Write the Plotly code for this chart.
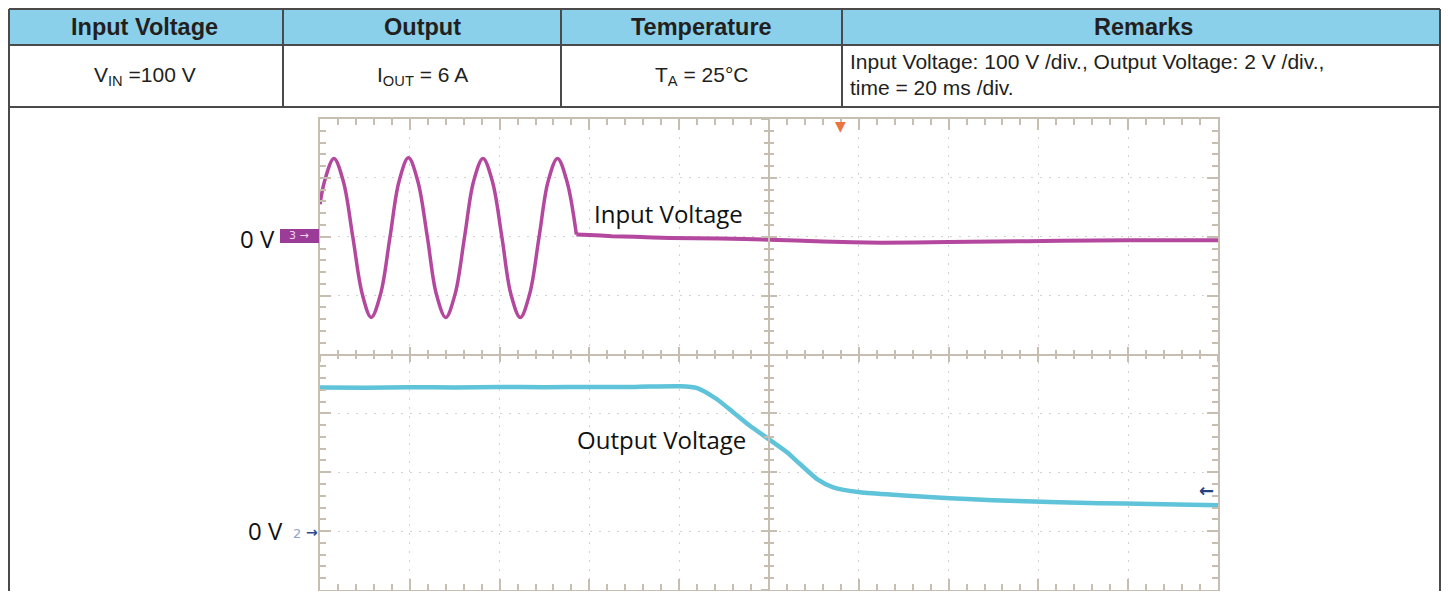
import plotly.graph_objects as go

# ---------------- data ----------------
header_labels = ["Input Voltage", "Output", "Temperature", "Remarks"]
row_values = ["V<sub>IN</sub> =100 V", "I<sub>OUT</sub> = 6 A", "T<sub>A</sub> = 25°C"]
remarks_lines = ["Input Voltage: 100 V /div., Output Voltage: 2 V /div.,",
                 "time = 20 ms /div."]

# input voltage (channel 3), AC part (ms, V)
input_ac_time_ms = [0, 1.0, 3.1, 5.2, 7.3, 9.4, 11.4, 13.5, 15.6, 17.6, 19.7, 21.8,
                    23.9, 25.9, 28.0, 30.1, 32.2, 34.2, 36.3, 38.4, 40.5, 42.5,
                    44.6, 46.7, 48.8, 50.8, 52.9, 55.0, 57.1]
input_ac_volts = [55, 94, 133, 94, 0, -97, -137, -97, 0, 94, 134, 94,
                  0, -97, -137, -97, 0, 94, 133, 94, 0, -97,
                  -137, -97, 0, 94, 133, 94, 4]
# input voltage after the AC is removed
input_off_time_ms = [57.1, 60, 65, 70, 78, 89, 100, 112, 125, 140, 150, 165, 180, 200]
input_off_volts = [4, 3, 1, 0, -2, -3, -5, -8, -10, -9, -8, -7, -6, -6]

# output voltage (channel 2)
output_time_ms = [0, 10, 20, 30, 40, 50, 60, 70, 80.2, 84.0, 88.4, 92.0, 95.8, 100.0,
                  104.0, 106.9, 110.7, 114.3, 120.3, 129.2, 136.5, 144.1, 155.2,
                  173.7, 184.9, 200]
output_volts = [4.88, 4.87, 4.89, 4.88, 4.90, 4.89, 4.90, 4.90, 4.92, 4.86, 4.48,
                4.04, 3.57, 3.12, 2.68, 2.28, 1.77, 1.49, 1.32, 1.22, 1.15, 1.09,
                1.02, 0.95, 0.92, 0.88]

trace_labels = ["Input Voltage", "Output Voltage"]
zero_label = "0 V"
input_channel = "3"
output_channel = "2"
trigger_time_ms = 116
time_per_div_ms = 20
input_volts_per_div = 100
output_volts_per_div = 2

# ---------------- layout helpers ----------------
OFF = 8  # page body margin added by the browser
W, H = 1449 - 2 * OFF, 599 - 2 * OFF


def px(x):
    return (x - OFF) / W


def py(y):
    return 1 - (y - OFF) / H


FRAME = "#c6bfb1"
BORDER = "#4a4a4a"
INPUT_COLOR = "#b3489e"
OUTPUT_COLOR = "#5fc3d9"

fig = go.Figure()

fig.add_trace(go.Scatter(x=input_ac_time_ms, y=input_ac_volts, mode="lines",
                         line=dict(color=INPUT_COLOR, width=3.5, shape="spline", smoothing=1.0),
                         name=trace_labels[0], showlegend=False, hoverinfo="skip",
                         xaxis="x", yaxis="y"))
fig.add_trace(go.Scatter(x=input_off_time_ms, y=input_off_volts, mode="lines",
                         line=dict(color=INPUT_COLOR, width=4, shape="spline", smoothing=0.6),
                         name=trace_labels[0], showlegend=False, hoverinfo="skip",
                         xaxis="x", yaxis="y"))
fig.add_trace(go.Scatter(x=output_time_ms, y=output_volts, mode="lines",
                         line=dict(color=OUTPUT_COLOR, width=4.5, shape="spline", smoothing=0.6),
                         name=trace_labels[1], showlegend=False, hoverinfo="skip",
                         xaxis="x", yaxis="y2"))
# dummy traces so the centre-cross axes get drawn
for xa, ya in [("x2", "y"), ("x3", "y"), ("x", "y3"), ("x", "y4")]:
    fig.add_trace(go.Scatter(x=[None], y=[None], xaxis=xa, yaxis=ya,
                             showlegend=False, hoverinfo="skip"))

x_range = [0, 10 * time_per_div_ms]
in_range = [-6 * input_volts_per_div, 2 * input_volts_per_div]
out_range = [-1 * output_volts_per_div, 7 * output_volts_per_div]

xdom = [px(320), px(1218)]
ydom = [max(0, py(590)), py(119)]

frame_axis = dict(showgrid=True, gridcolor="#d2d2d2", griddash="2px,7px", gridwidth=1,
                  zeroline=False, showline=True, linecolor=FRAME, linewidth=2,
                  mirror="ticks", ticks="inside", ticklen=11, tickwidth=1.5,
                  tickcolor=FRAME, showticklabels=False, fixedrange=True)

center_axis = dict(showgrid=False, zeroline=False, showline=True, linecolor=FRAME,
                   linewidth=1.5, tickwidth=1.5, tickcolor=FRAME, showticklabels=False,
                   fixedrange=True, anchor="free")

fig.update_layout(
    width=W, height=H, margin=dict(l=0, r=0, t=0, b=0),
    paper_bgcolor="white", plot_bgcolor="white",
    xaxis=dict(domain=xdom, range=x_range, dtick=time_per_div_ms, tick0=0,
               minor=dict(dtick=time_per_div_ms / 5, ticks="inside", ticklen=6,
                          tickcolor=FRAME, tickwidth=1.5, showgrid=False),
               anchor="y", **frame_axis),
    yaxis=dict(domain=ydom, range=in_range, dtick=input_volts_per_div, tick0=0,
               minor=dict(dtick=input_volts_per_div / 5, ticks="inside", ticklen=6,
                          tickcolor=FRAME, tickwidth=1.5, showgrid=False),
               anchor="x", **frame_axis),
    yaxis2=dict(domain=ydom, range=out_range, overlaying="y", visible=False,
                anchor="x", fixedrange=True),
    xaxis2=dict(domain=xdom, range=x_range, overlaying="x", position=py(354.5),
                ticks="outside", ticklen=7, dtick=time_per_div_ms, tick0=0,
                minor=dict(dtick=time_per_div_ms / 5, ticks="outside", ticklen=4,
                           tickcolor=FRAME, tickwidth=1.5),
                **center_axis),
    xaxis3=dict(domain=xdom, range=x_range, overlaying="x", position=py(354.5),
                ticks="inside", ticklen=7, dtick=time_per_div_ms, tick0=0,
                minor=dict(dtick=time_per_div_ms / 5, ticks="inside", ticklen=4,
                           tickcolor=FRAME, tickwidth=1.5),
                **center_axis),
    yaxis3=dict(domain=ydom, range=in_range, overlaying="y", position=px(769),
                ticks="outside", ticklen=7, dtick=input_volts_per_div, tick0=0,
                minor=dict(dtick=input_volts_per_div / 5, ticks="outside", ticklen=4,
                           tickcolor=FRAME, tickwidth=1.5),
                **center_axis),
    yaxis4=dict(domain=ydom, range=in_range, overlaying="y", position=px(769),
                ticks="inside", ticklen=7, dtick=input_volts_per_div, tick0=0,
                minor=dict(dtick=input_volts_per_div / 5, ticks="inside", ticklen=4,
                           tickcolor=FRAME, tickwidth=1.5),
                **center_axis),
)

# ---------------- table ----------------
TL, TR, TT = 9, 1440, 9  # outer table edges (kept inside the drawable page area)
shapes = []
shapes.append(dict(type="rect", xref="paper", yref="paper", x0=px(TL), x1=px(TR),
                   y0=py(45), y1=py(TT), fillcolor="#8bd0ea", line_width=0, layer="below"))
for yy in [TT, 45, 107]:
    shapes.append(dict(type="line", xref="paper", yref="paper", x0=px(TL), x1=px(TR),
                       y0=py(yy), y1=py(yy), line=dict(color=BORDER, width=2)))
for xx in [TL, TR]:
    shapes.append(dict(type="line", xref="paper", yref="paper", x0=px(xx), x1=px(xx),
                       y0=py(TT), y1=0, line=dict(color=BORDER, width=2)))
for xx in [283, 561, 842]:
    shapes.append(dict(type="line", xref="paper", yref="paper", x0=px(xx), x1=px(xx),
                       y0=py(TT), y1=py(107), line=dict(color=BORDER, width=2)))
# channel 3 ground marker box
shapes.append(dict(type="rect", xref="paper", yref="paper", x0=px(280), x1=px(319),
                   y0=py(243), y1=py(229), fillcolor="#9b3c99", line_width=0))
fig.update_layout(shapes=shapes)

annotations = []
col_centers = [144.5, 422, 701.5, 1143.5]
for lab, cx in zip(header_labels, col_centers):
    annotations.append(dict(text="<b>" + lab + "</b>", x=px(cx), y=py(27),
                            font=dict(family="Liberation Sans, Arial", size=23.5, color="#231f20")))
for val, cx in zip(row_values, col_centers[:3]):
    annotations.append(dict(text=val, x=px(cx), y=py(76),
                            font=dict(family="Liberation Sans, Arial", size=21, color="#231f20")))
for i, line in enumerate(remarks_lines):
    annotations.append(dict(text=line, x=px(848), y=py(61 + 26 * i), xanchor="left",
                            font=dict(family="Liberation Sans, Arial", size=21, color="#231f20")))

# scope labels
LBL = dict(family="Open Sans", size=24, color="#111111")
annotations.append(dict(text=trace_labels[0], x=px(668), y=py(213), font=LBL))
annotations.append(dict(text=trace_labels[1], x=px(661), y=py(439), font=LBL))
annotations.append(dict(text=zero_label, x=px(257), y=py(238), font=LBL))
annotations.append(dict(text=zero_label, x=px(265), y=py(530), font=LBL))
annotations.append(dict(text=input_channel + " →", x=px(299), y=py(236),
                        font=dict(family="DejaVu Sans", size=11, color="#f0d4ee")))
annotations.append(dict(text=output_channel, x=px(297), y=py(533),
                        font=dict(family="DejaVu Sans", size=13, color="#8ea4cf")))
annotations.append(dict(text="<b>→</b>", x=px(312), y=py(532),
                        font=dict(family="DejaVu Sans", size=14, color="#2b4a8c")))
annotations.append(dict(text="<b>←</b>", x=px(1206), y=py(490),
                        font=dict(family="DejaVu Sans", size=18, color="#24407f")))
annotations.append(dict(text="▼", xref="x", x=trigger_time_ms, yref="paper", y=py(116),
                        yanchor="top", font=dict(family="DejaVu Sans", size=14, color="#ea7440")))

for a in annotations:
    a.setdefault("xref", "paper")
    a.setdefault("yref", "paper")
    a["showarrow"] = False
    a.setdefault("xanchor", "center")
    a.setdefault("yanchor", "middle")
fig.update_layout(annotations=annotations)

fig.write_html("out.html")
